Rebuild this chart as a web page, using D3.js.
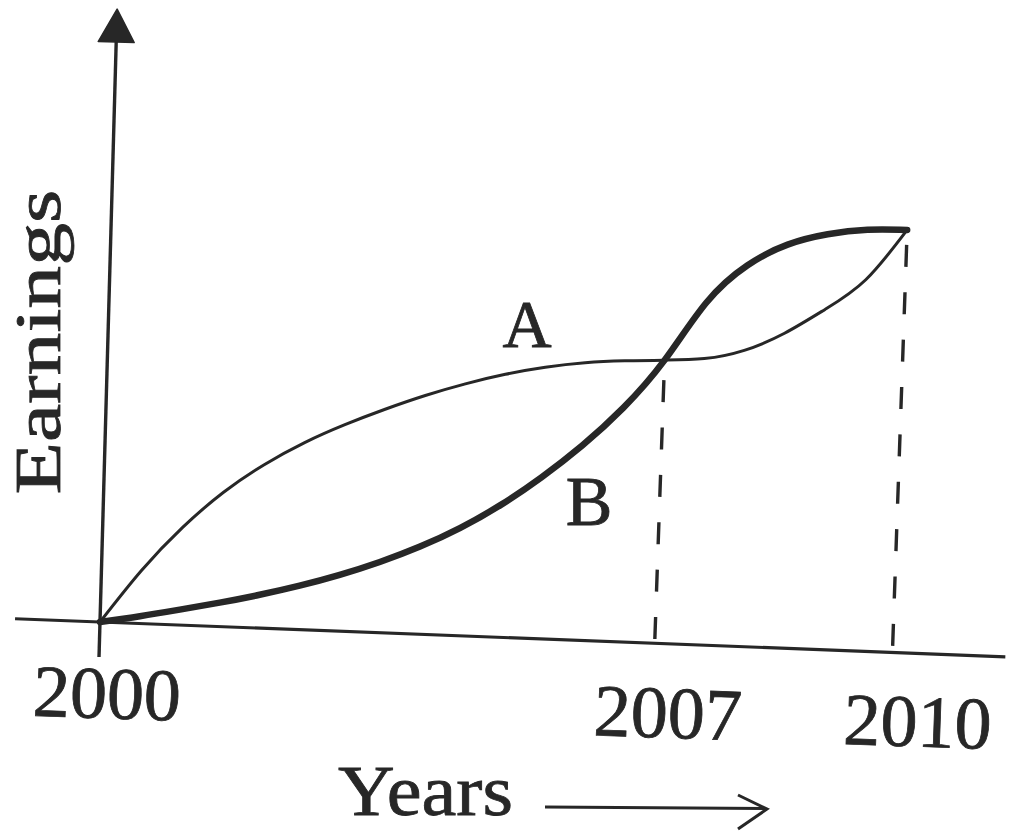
<!DOCTYPE html>
<html><head><meta charset="utf-8">
<script src="https://cdn.jsdelivr.net/npm/d3@7"></script>
<style>html,body{margin:0;padding:0;background:#fff;} svg{display:block;}</style>
</head><body>
<svg id="chart" width="1011" height="834"></svg>
<script>
// ---- data (earnings index, 2010 = 100) ----
const years   = [2000, 2000.5, 2001, 2001.5, 2002, 2002.5, 2003, 2003.5, 2004, 2004.5, 2005,
                 2005.5, 2006, 2006.5, 2007, 2007.5, 2008, 2008.5, 2009, 2009.5, 2010];
const seriesA = [0, 12.6, 23.2, 31.9, 38.8, 44.4, 49.0, 53.0, 56.6, 59.7, 62.3,
                 64.3, 65.7, 66.5, 67.0, 67.7, 70.0, 74.4, 80.4, 87.8, 100];
const seriesB = [0, 1.7, 3.6, 5.6, 7.8, 10.3, 13.2, 16.6, 20.6, 25.4, 31.2,
                 38.1, 46.0, 55.3, 67.0, 81.0, 90.2, 95.5, 98.3, 99.7, 100];
const seriesNames = ["A", "B"];
const tickYears  = [2000, 2007, 2010];
const tickLabels = ["2000", "2007", "2010"];
const dropYears  = [2007, 2010];
const xTitle = "Years";
const yTitle = "Earnings";

// ---- layout ----
const W = 1011, H = 834;
const ink = "#272727";
const serif = "'Liberation Serif', 'DejaVu Serif', serif";
const svg = d3.select("#chart");
svg.append("rect").attr("width", W).attr("height", H).attr("fill", "#fff");

const x = d3.scaleLinear().domain([2000, 2010]).range([0, 793]);
const y = d3.scaleLinear().domain([0, 100]).range([0, -420]);
const yAxisMax = 146;

// the printed figure is slightly rotated on the page
const g = svg.append("g").attr("transform", "translate(100,622) rotate(2)");

// axes lines
g.append("line").attr("x1", -85).attr("x2", 906).attr("y1", 0).attr("y2", 0)
  .attr("transform", "rotate(0.2)")
  .attr("stroke", ink).attr("stroke-width", 3.2);
const yAx = g.append("g").attr("transform", "rotate(-0.4)");
yAx.append("line").attr("x1", 0).attr("x2", 0).attr("y1", 35).attr("y2", y(yAxisMax) + 25)
  .attr("stroke", ink).attr("stroke-width", 3.4);
const tipY = y(yAxisMax);
yAx.append("path")
  .attr("d", `M0,${tipY} L18,${tipY + 33} L-18,${tipY + 33} Z`)
  .attr("fill", ink).attr("stroke", ink).attr("stroke-width", 1.5).attr("stroke-linejoin", "round");

// dashed drop lines
const dropGap = {2007: 20, 2010: 15};
dropYears.forEach(yr => {
  const v = seriesA[years.indexOf(yr)];
  g.append("line")
    .attr("x1", x(yr)).attr("x2", x(yr)).attr("y1", y(v)).attr("y2", 0)
    .attr("stroke", ink).attr("stroke-width", 3.4)
    .attr("stroke-dasharray", "22,25.4")
    .attr("stroke-dashoffset", 47.4 - dropGap[yr]);
});

// curves
const line = d3.line().x((d, i) => x(years[i])).y(d => y(d)).curve(d3.curveNatural);
g.append("path").datum(seriesA).attr("d", line)
  .attr("fill", "none").attr("stroke", ink).attr("stroke-width", 3).attr("stroke-linecap", "round");
g.append("path").datum(seriesB).attr("d", line)
  .attr("fill", "none").attr("stroke", ink).attr("stroke-width", 6.5).attr("stroke-linecap", "round");

// tick labels via axis
const labelNudge = {2000: 9, 2007: 15, 2010: 27};
const ax = g.append("g")
  .call(d3.axisBottom(x).tickValues(tickYears).tickFormat((d, i) => tickLabels[i]).tickSize(0));
ax.select(".domain").remove();
ax.attr("font-family", serif).attr("font-size", 74);
ax.selectAll("text")
  .attr("y", 96).attr("dy", null)
  .attr("x", d => labelNudge[d])
  .attr("fill", ink).attr("stroke", ink).attr("stroke-width", 0.8);

// titles and series labels
const txt = (s, size) => svg.append("text").text(s)
  .attr("font-family", serif).attr("font-size", size)
  .attr("fill", ink).attr("stroke", ink).attr("stroke-width", 0.8);

txt(yTitle, 66).attr("text-anchor", "middle")
  .attr("transform", "translate(60,342) rotate(-90)")
  .attr("textLength", 305).attr("lengthAdjust", "spacingAndGlyphs");
txt(seriesNames[0], 68).attr("text-anchor", "middle").attr("x", 527).attr("y", 347);
txt(seriesNames[1], 70).attr("text-anchor", "middle").attr("x", 589).attr("y", 525);
txt(xTitle, 72).attr("x", 338).attr("y", 815)
  .attr("textLength", 175).attr("lengthAdjust", "spacingAndGlyphs");

// "Years" arrow
svg.append("line").attr("x1", 545).attr("x2", 765).attr("y1", 807).attr("y2", 808.5)
  .attr("stroke", ink).attr("stroke-width", 2.8);
svg.append("path").attr("d", "M738,795 L767,809 L738,829")
  .attr("fill", "none").attr("stroke", ink).attr("stroke-width", 3).attr("stroke-linejoin", "miter");
</script>
</body></html>
